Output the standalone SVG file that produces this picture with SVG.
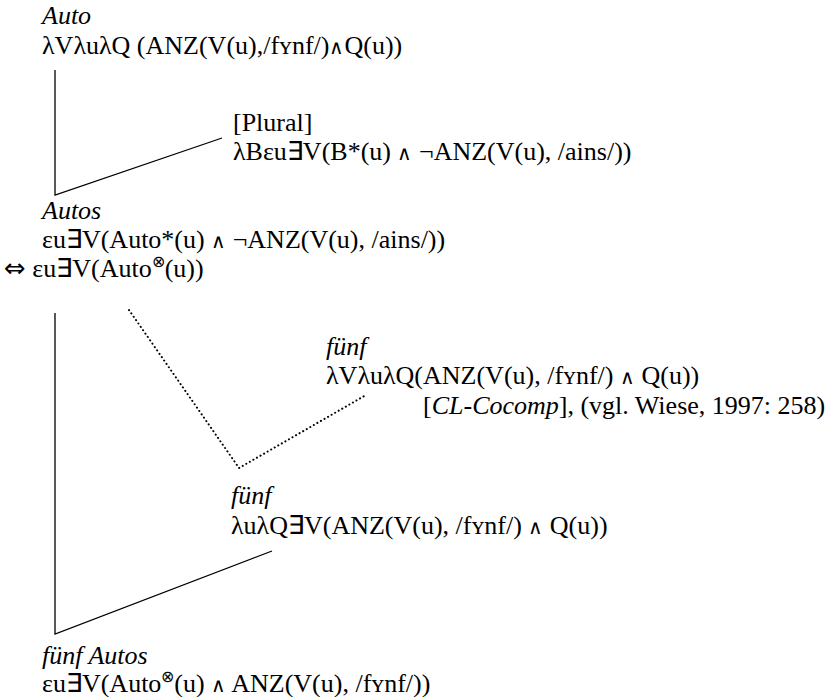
<svg xmlns="http://www.w3.org/2000/svg" width="840" height="697" viewBox="0 0 840 697">
<rect width="840" height="697" fill="#fff"/>
<g id="auto">
<text x="42" y="24" style="font-family:'Liberation Serif',serif;font-size:26px;font-style:italic">Auto</text>
<text x="42" y="54" style="font-family:'Liberation Serif',serif;font-size:26px">λVλuλQ (ANZ(V(u),/fʏnf/)<tspan style="font-size:20px">∧</tspan>Q(u))</text>
</g>
<g id="plural">
<text x="233" y="131" style="font-family:'Liberation Serif',serif;font-size:26px">[Plural]</text>
<text x="233" y="160" style="font-family:'Liberation Serif',serif;font-size:26px">λBεu∃V(B*(u) <tspan style="font-size:20px">∧</tspan> ¬ANZ(V(u), /ains/))</text>
</g>
<g id="autos">
<text x="42" y="219" style="font-family:'Liberation Serif',serif;font-size:26px;font-style:italic">Autos</text>
<text x="42" y="248" style="font-family:'Liberation Serif',serif;font-size:26px">εu∃V(Auto*(u) <tspan style="font-size:20px">∧</tspan> ¬ANZ(V(u), /ains/))</text>
<text x="4" y="277" style="font-family:'Liberation Serif',serif;font-size:26px"><tspan style="font-family:'DejaVu Sans',sans-serif">⇔</tspan> εu∃V(Auto<tspan style="font-size:16px" dy="-10">⊗</tspan><tspan dy="10">(u))</tspan></text>
</g>
<g id="fuenf1">
<text x="326" y="355" style="font-family:'Liberation Serif',serif;font-size:26px;font-style:italic">fünf</text>
<text x="326" y="384" style="font-family:'Liberation Serif',serif;font-size:26px">λVλuλQ(ANZ(V(u), /fʏnf/) <tspan style="font-size:20px">∧</tspan> Q(u))</text>
</g>
<g id="cocomp">
<text x="423" y="414" style="font-family:'Liberation Serif',serif;font-size:26px">[<tspan style="font-style:italic">CL-Cocomp</tspan>], (vgl. Wiese, 1997: 258)</text>
</g>
<g id="fuenf2">
<text x="231" y="504" style="font-family:'Liberation Serif',serif;font-size:26px;font-style:italic">fünf</text>
<text x="231" y="534" style="font-family:'Liberation Serif',serif;font-size:26px">λuλQ∃V(ANZ(V(u), /fʏnf/) <tspan style="font-size:20px">∧</tspan> Q(u))</text>
</g>
<g id="fuenfautos">
<text x="42" y="664" style="font-family:'Liberation Serif',serif;font-size:26px;font-style:italic">fünf Autos</text>
<text x="42" y="692" style="font-family:'Liberation Serif',serif;font-size:26px">εu∃V(Auto<tspan style="font-size:16px" dy="-10">⊗</tspan><tspan dy="10">(u) </tspan><tspan style="font-size:20px">∧</tspan> ANZ(V(u), /fʏnf/))</text>
</g>
<g id="connectors" fill="none" stroke="#000">
<polyline stroke-width="1.3" points="55,70 55,195 222,138"/>
<polyline stroke-width="1.3" points="55,313 55,634 272,551"/>
<polyline stroke-width="2" stroke-dasharray="0.1 4" stroke-linecap="round" points="129,310 239,468 366,395"/>
</g>
</svg>
